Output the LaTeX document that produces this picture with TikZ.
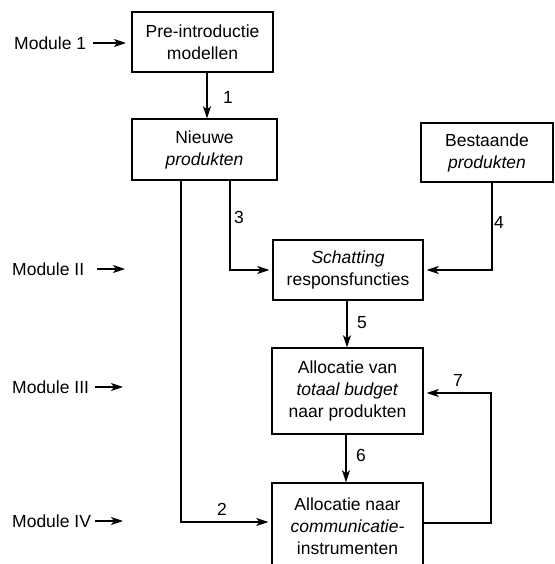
\documentclass[tikz,border=0pt]{standalone}
\usepackage{fontspec}
\setmainfont{Liberation Sans}
\usetikzlibrary{arrows.meta}
\begin{document}
\begin{tikzpicture}[x=1pt,y=-1pt,
  box/.style={draw, line width=1.4pt, inner sep=0pt, align=center, font=\fontsize{17.5}{22}\selectfont},
  lab/.style={inner sep=0pt, font=\fontsize{17.5}{22}\selectfont},
  conn/.style={line width=1.4pt, -{Stealth[length=12pt,width=8pt,inset=3pt]}},
  gap/.style={shorten >=3pt},
]
\useasboundingbox (0,0) rectangle (554,564);
\clip (0,0) rectangle (554,564);
% boxes
\node[box, minimum width=141pt, minimum height=60pt] (A) at (202.5,42) {Pre-introductie\\modellen};
\node[box, minimum width=145pt, minimum height=61pt] (B) at (204.5,149.5) {Nieuwe\\\textit{produkten}};
\node[box, minimum width=132pt, minimum height=59pt] (C) at (487,152.5) {Bestaande\\\textit{produkten}};
\node[box, minimum width=150pt, minimum height=60pt] (D) at (348,270) {\textit{Schatting}\\responsfuncties};
\node[box, minimum width=151pt, minimum height=86pt] (E) at (347.5,391) {Allocatie van\\\textit{totaal budget}\\naar produkten};
\node[box, minimum width=151pt, minimum height=86pt] (F) at (347.5,526) {Allocatie naar\\\textit{communicatie-}\\instrumenten};
% module labels
\node[lab, anchor=west] (m1) at (14,43) {Module 1};
\node[lab, anchor=west] (m2) at (12,269) {Module II};
\node[lab, anchor=west] (m3) at (12,387) {Module III};
\node[lab, anchor=west] (m4) at (12,521) {Module IV};
\coordinate (m1s) at (93,43);  \coordinate (m1e) at (126,43);
\coordinate (m2s) at (97,269); \coordinate (m2e) at (125,269);
\coordinate (m3s) at (95,387); \coordinate (m3e) at (123,387);
\coordinate (m4s) at (95,521); \coordinate (m4e) at (123,521);
\draw[conn] (m1s) -- (m1e);
\draw[conn] (m2s) -- (m2e);
\draw[conn] (m3s) -- (m3e);
\draw[conn] (m4s) -- (m4e);
% connectors
\coordinate (x1) at (207,0);
\draw[conn] (A.south -| x1) -- (B.north -| x1);
\coordinate (c2) at (181,522);
\draw[conn, gap] (B.south -| c2) -- (c2) -- (F.west |- c2);
\coordinate (c3) at (230,270);
\draw[conn, gap] (B.south -| c3) -- (c3) -- (D.west);
\coordinate (c4) at (492,270);
\draw[conn, gap] (C.south -| c4) -- (c4) -- (D.east);
\coordinate (x5) at (347,0);
\draw[conn] (D.south -| x5) -- (E.north -| x5);
\coordinate (x6) at (346,0);
\draw[conn] (E.south -| x6) -- (F.north -| x6);
\coordinate (c7a) at (491,523);
\coordinate (c7b) at (491,393);
\draw[conn, gap] (F.east |- c7a) -- (c7a) -- (c7b) -- (E.east |- c7b);
% connector labels
\node[lab] (l1) at (228,97) {1};
\node[lab] (l2) at (222,509) {2};
\node[lab] (l3) at (239,217) {3};
\node[lab] (l4) at (499,222) {4};
\node[lab] (l5) at (362,323) {5};
\node[lab] (l6) at (361,455) {6};
\node[lab] (l7) at (458,380) {7};
\end{tikzpicture}
\end{document}
